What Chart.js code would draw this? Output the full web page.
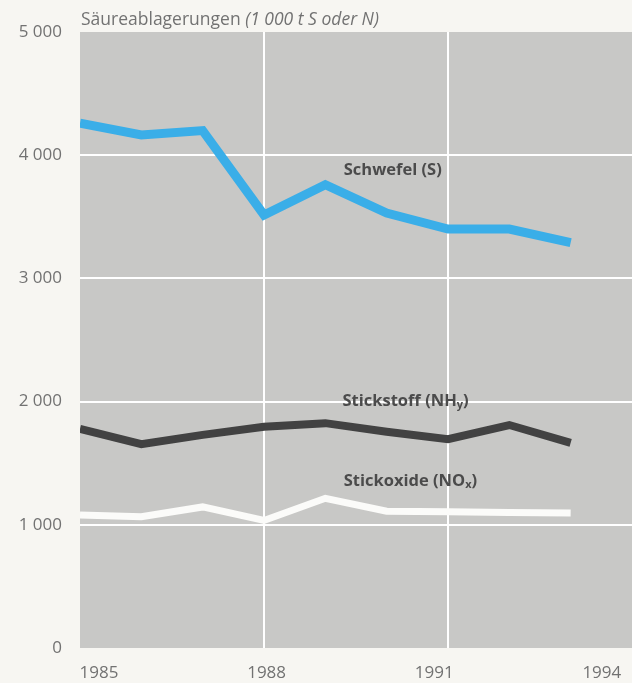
<!DOCTYPE html>
<html>
<head>
<meta charset="utf-8">
<script src="https://cdn.jsdelivr.net/npm/chart.js@4.4.0/dist/chart.umd.min.js"></script>
<style>
    html, body { margin: 0; padding: 0; background: #f7f6f2; overflow: hidden; }
    #wrap { width: 632px; height: 683px; position: relative; }
    #chart { display: block; }
</style>
</head>
<body>
<div id="wrap"><canvas id="chart"></canvas></div>
<script>
// Données
const years = [1985, 1986, 1987, 1988, 1989, 1990, 1991, 1992, 1993];
const schwefel = [4260, 4165, 4200, 3515, 3760, 3530, 3400, 3400, 3290];
const stickstoff = [1778, 1655, 1730, 1795, 1825, 1755, 1695, 1810, 1665];
const stickoxide = [1080, 1065, 1145, 1035, 1215, 1110, 1105, 1100, 1095];
const yearTicks = [1985, 1988, 1991, 1994];
const gridYears = [1988, 1991];

const fontFamily = '"Open Sans", "DejaVu Sans", sans-serif';
const textGray = '#727272';

// Étiquettes des séries dans le graphique (point d'ancrage en coordonnées de données)
const seriesLabels = [
    { text: 'Schwefel (S)', sub: '', after: '', year: 1989.3, value: 3880 },
    { text: 'Stickstoff (NH', sub: 'y', after: ')', year: 1989.28, value: 2005 },
    { text: 'Stickoxide (NO', sub: 'x', after: ')', year: 1989.3, value: 1355 }
];

function toPoints(values) {
    return years.map((y, i) => ({ x: y, y: values[i] }));
}

function formatThousands(v) {
    return String(v).replace(/\B(?=(\d{3})+(?!\d))/g, ' ');
}

// Fond de page et zone grise du graphique
const backgroundPlugin = {
    id: 'background',
    beforeDraw(chart) {
        const { ctx, chartArea } = chart;
        ctx.save();
        ctx.fillStyle = '#f7f6f2';
        ctx.fillRect(0, 0, chart.width, chart.height);
        ctx.fillStyle = '#c8c8c6';
        ctx.fillRect(chartArea.left, chartArea.top, chartArea.right - chartArea.left, chartArea.bottom - chartArea.top);
        ctx.restore();
    }
};

// Titre avec une partie en italique
const titlePlugin = {
    id: 'mixedTitle',
    afterDraw(chart) {
        const ctx = chart.ctx;
        ctx.save();
        ctx.fillStyle = textGray;
        ctx.textBaseline = 'alphabetic';
        ctx.font = '17.5px ' + fontFamily;
        const first = 'Säureablagerungen ';
        ctx.fillText(first, 81, 25);
        const w = ctx.measureText(first).width;
        ctx.font = 'italic 17.5px ' + fontFamily;
        ctx.fillText('(1 000 t S oder N)', 81 + w, 25);
        ctx.restore();
    }
};

// Noms des séries dessinés près des lignes
const labelPlugin = {
    id: 'seriesLabels',
    afterDatasetsDraw(chart) {
        const ctx = chart.ctx;
        const xs = chart.scales.x;
        const ys = chart.scales.y;
        ctx.save();
        ctx.fillStyle = '#4b4b4b';
        ctx.textBaseline = 'middle';
        seriesLabels.forEach(l => {
            let x = xs.getPixelForValue(l.year);
            const y = ys.getPixelForValue(l.value);
            ctx.font = 'bold 16.5px ' + fontFamily;
            ctx.fillText(l.text, x, y);
            x += ctx.measureText(l.text).width;
            if (l.sub) {
                ctx.font = 'bold 11px ' + fontFamily;
                ctx.fillText(l.sub, x, y + 4);
                x += ctx.measureText(l.sub).width;
                ctx.font = 'bold 16.5px ' + fontFamily;
                ctx.fillText(l.after, x, y);
            }
        });
        ctx.restore();
    }
};

function lineDataset(label, values, color, width) {
    return {
        label: label,
        data: toPoints(values),
        borderColor: color,
        borderWidth: width,
        pointRadius: 0,
        tension: 0,
        fill: false,
        borderJoinStyle: 'miter',
        borderCapStyle: 'butt'
    };
}

const ctx = document.getElementById('chart').getContext('2d');
new Chart(ctx, {
    type: 'line',
    data: {
        datasets: [
            lineDataset('Schwefel (S)', schwefel, '#3aaee8', 9),
            lineDataset('Stickstoff (NHy)', stickstoff, '#424242', 8),
            lineDataset('Stickoxide (NOx)', stickoxide, '#fbfbf9', 7)
        ]
    },
    options: {
        responsive: true,
        maintainAspectRatio: false,
        animation: false,
        layout: { padding: { top: 32, right: 0, left: 0, bottom: 0 } },
        plugins: {
            legend: { display: false },
            tooltip: { enabled: false },
            title: { display: false }
        },
        scales: {
            // axe des données : seulement les lignes verticales blanches
            x: {
                type: 'linear',
                min: 1985,
                max: 1994,
                afterBuildTicks: scale => { scale.ticks = gridYears.map(v => ({ value: v })); },
                afterFit: scale => {
                    scale.height = 0;
                    scale.paddingLeft = 0;
                    scale.paddingRight = 0;
                },
                border: { display: false },
                grid: { drawTicks: false, lineWidth: 2, color: '#ffffff' },
                ticks: { display: false }
            },
            // axe des années, décalé comme dans l'original imprimé
            xLabels: {
                type: 'linear',
                position: 'bottom',
                min: 1984.66,
                max: 1994.54,
                afterBuildTicks: scale => { scale.ticks = yearTicks.map(v => ({ value: v })); },
                afterFit: scale => {
                    scale.height = 35;
                    scale.paddingLeft = 0;
                    scale.paddingRight = 0;
                },
                border: { display: false },
                grid: { display: false, drawTicks: false },
                ticks: {
                    padding: 15,
                    color: textGray,
                    font: { family: fontFamily, size: 17 },
                    callback: v => String(v)
                }
            },
            y: {
                min: 0,
                max: 5000,
                afterFit: scale => { scale.width = 80; },
                border: { display: false },
                grid: {
                    drawTicks: false,
                    lineWidth: 2,
                    color: c => {
                        const v = c.tick ? c.tick.value : 0;
                        return (v > 0 && v < 5000) ? '#ffffff' : 'rgba(0,0,0,0)';
                    }
                },
                ticks: {
                    stepSize: 1000,
                    padding: 18,
                    color: textGray,
                    font: { family: fontFamily, size: 17 },
                    callback: v => formatThousands(v)
                }
            }
        }
    },
    plugins: [backgroundPlugin, titlePlugin, labelPlugin]
});
</script>
</body>
</html>
